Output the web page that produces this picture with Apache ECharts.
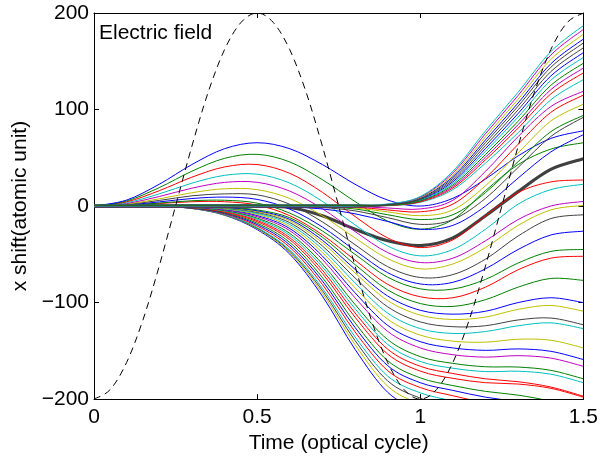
<!DOCTYPE html>
<html>
<head>
<meta charset="utf-8">
<script src="https://cdn.jsdelivr.net/npm/echarts@6/dist/echarts.min.js"></script>
<style>
html,body{margin:0;padding:0;background:#fff;}
#chart{width:601px;height:459px;}
</style>
</head>
<body>
<div id="chart"></div>
<script>
// time grid (optical cycles)
const T = [0,0.1,0.2,0.3,0.4,0.5,0.6,0.7,0.8,0.9,1.0,1.1,1.2,1.3,1.4,1.5];
const TF = [0,0.05,0.1,0.15,0.2,0.25,0.3,0.35,0.4,0.45,0.5,0.55,0.6,0.65,0.7,0.75,0.8,0.85,0.9,0.95,1.0,1.05,1.1,1.15,1.2,1.25,1.3,1.35,1.4,1.45,1.5];
// electric field (dashed, scaled)
const field = [-200,-190,-162,-118,-62,0,62,118,162,190,200,190,162,118,62,0,-62,-118,-162,-190,-200,-190,-162,-118,-62,0,62,118,162,190,200];
// thick curve
const meanShift = [0,0,0,0,0,0,-1.5,-10,-24,-36,-41,-33,-10,15,38,49];

// top bundle (flat, then rising)
const b0 = [0.9,0.9,0.9,0.9,0.9,0.9,0.9,0.9,0.9,2.1,9.9,36.1,78,118,160,187];
const b1 = [-0.9,-0.9,-0.9,-0.9,-0.9,-0.9,-0.9,-0.9,-0.9,1.9,9.3,34.3,75,114.6,156.4,183];
const b2 = [0.5,0.5,0.5,0.5,0.5,0.5,0.5,0.5,0.5,1.7,8.7,32.3,71.7,110.7,151.9,178];
const b3 = [-0.5,-0.5,-0.5,-0.5,-0.5,-0.5,-0.5,-0.5,-0.5,1.5,8.1,30.4,68.5,106.8,147.3,173];
const b4 = [1.2,1.2,1.2,1.2,1.2,1.2,1.2,1.2,1.2,1.4,7.5,28.7,65.7,103.5,143.7,169];
const b5 = [-1.2,-1.2,-1.2,-1.2,-1.2,-1.2,-1.2,-1.2,-1.2,1.2,7,26.9,62.6,99.7,139.2,164];
const b6 = [0.2,0.2,0.2,0.2,0.2,0.2,0.2,0.2,0.2,1,6.4,25.2,59.6,95.9,134.7,159];
const b7 = [-0.2,-0.2,-0.2,-0.2,-0.2,-0.2,-0.2,-0.2,-0.2,0.9,5.9,23.5,56.7,92.2,130.3,154];
const b8 = [0.7,0.7,0.7,0.7,0.7,0.7,0.7,0.7,0.7,0.8,5.4,21.8,53.4,87.9,125,148];
const b9 = [-0.7,-0.7,-0.7,-0.7,-0.7,-0.7,-0.7,-0.7,-0.7,0.6,4.9,20.2,50.6,84.3,120.5,143];
const b10 = [0,0,0,0,0,0,0,0,0,0.5,4.4,18.7,47.9,80.7,116.1,138];
const b11 = [1,1,1,1,1,1,1,1,1,0.4,3.9,17,44.5,76,110,131];

// late droppers
const d0 = [0,0,0,0,0,0,0,0,-0.5,-2,-3,6,36,72,103,119];
const d1 = [0,0,0,0,0,0,0,0,-1,-4,-6,2,29,64,97,115];
const d2 = [0,0,0,0,0,0,0,-0.5,-2,-6,-10,-4,21,55,88,105.6];
const d3 = [0,0,0,0,0,0,0,-1,-3,-9,-14,-9,14,46,77,94];
const d4 = [0,0,0,0,0,0,-0.5,-1.5,-5,-12,-19,-14,8,40,72,92];
const d5 = [0,0,0,0,0,0,-1,-3,-8,-16,-24,-20,0,29,56,74];

// bump curves
const a0 = [0,6.2,22.6,43,59.4,65.6,59.4,43,22.6,6.2,0,8,28,52,70,78];
const a1 = [0,5.3,19.1,36.1,49.4,53.6,45.7,27.3,4.7,-15.6,-24,-14,16,43,59,65.6];
const a2 = [0,4.4,15.9,29.9,40.5,43,33.9,14.2,-10.8,-33,-43,-35,-10,14,25,27];
const a3 = [0,3.5,12.6,23.7,31.8,33,23.8,4.9,-19.5,-41.4,-51.6,-45,-24,2,17,22.6];
const a4 = [0,2.7,9.9,18.5,24.5,24.6,15.5,-2.8,-26.4,-48.2,-58.5,-54,-36,-14,0,4.8];
const a5 = [0,2.1,7.5,13.8,17.9,17,7.8,-10,-33,-54.5,-65,-60,-43,-20,-4,0.7];
const a6 = [0,1.6,5.8,10.6,12.6,11.6,1.9,-16.4,-40,-62.8,-74,-71,-55,-31,-13,-9];
const a7 = [0,1.2,4.3,7.8,9.3,6.9,-3.2,-21.7,-46,-69,-80.7,-79,-65,-45,-30,-26];
const a8 = [0,0.9,3.1,5.5,6,3,-7.3,-25.8,-50,-73.7,-85.8,-86,-76,-59,-47,-45];
const a9 = [0,0.7,2.6,4.5,4.5,1,-10,-29.8,-56,-81.1,-94,-95,-84,-66,-54,-52];

// downward curves
const c0 = [0,0,0,-0.3,-1.2,-4,-12.1,-32.3,-60.6,-86.9,-101,-104,-97,-84,-75,-77];
const c1 = [0,0,0,-0.4,-1.5,-4.9,-13.8,-35.4,-65.5,-93.2,-108,-112,-109,-100,-95,-100];
const c2 = [0,0,0,-0.5,-1.9,-5.7,-15.3,-38,-69.3,-97.9,-113,-117.5,-115,-107,-103,-109];
const c3 = [0,0,0,-0.6,-2.2,-6.6,-17.2,-41.3,-74.4,-104.4,-120,-125,-124,-118,-116,-123];
const c4 = [0,0,-0.1,-0.7,-2.6,-7.6,-19.1,-44.7,-79.6,-110.9,-127,-132,-130,-124,-121,-127];
const c5 = [0,0,-0.1,-0.8,-3.1,-8.7,-21.2,-48.1,-84.7,-117.2,-133.7,-140,-141,-138,-139,-147];
const c6 = [0,0,-0.1,-0.9,-3.5,-9.8,-23.3,-51.7,-89.9,-123.6,-140.5,-147,-149.5,-148,-150.5,-159];
const c7 = [0,0,-0.1,-1.1,-4,-11,-25.5,-55.3,-95.1,-129.8,-147,-154,-156.5,-155,-157.5,-166];
const c8 = [0,0,-0.2,-1.2,-4.6,-12.5,-28.3,-59.9,-101.9,-138.3,-156,-163,-166.5,-166.8,-170.2,-179];
const c9 = [0,0,-0.2,-1.4,-5.1,-13.7,-30.4,-63.1,-106.3,-143.3,-161,-168,-171.5,-171.1,-174.2,-183];
const c10 = [0,0,-0.2,-1.5,-5.6,-14.9,-32.7,-66.4,-110.7,-148.3,-166,-173.5,-179,-182,-187.5,-197];
const c11 = [0,0,-0.3,-1.6,-6.2,-16.2,-34.9,-69.8,-115.1,-153.3,-171,-178.5,-183,-184.4,-188.8,-198];
const c12 = [0,0,-0.3,-1.8,-6.8,-17.8,-37.7,-74,-121,-160.2,-178,-186,-192,-195.9,-202.3,-212];
const c13 = [0,0,-0.3,-2,-7.4,-19.2,-40.2,-77.6,-125.7,-165.3,-183,-191,-198,-202.9,-210,-220];
const c14 = [0,0,-0.4,-2.1,-8,-20.7,-42.7,-81.2,-130.3,-170.5,-188,-196.5,-204,-209.8,-217.8,-228];
const c15 = [0,0,-0.4,-2.3,-8.7,-22.3,-45.5,-85.1,-135.5,-176.1,-193.5,-202,-210.5,-217.4,-225.6,-236];
const c16 = [0,0,-0.4,-2.4,-9,-22.9,-46.8,-87.6,-139.3,-181.1,-199,-208,-216.7,-224,-232.4,-244];
const c17 = [0,0,-0.4,-2.5,-9.2,-23.6,-48.2,-90.2,-143.5,-186.6,-205,-214,-223.3,-231,-240.2,-252];
const c18 = [0,0,-0.4,-2.5,-9.5,-24.4,-49.8,-93.3,-148.4,-192.9,-212,-221,-231.6,-239,-249.2,-260];

const xTicks = [0, 0.5, 1, 1.5];
const yTicks = [-200, -100, 0, 100, 200];

const COL = {b:'#0000FF', g:'#008000', r:'#FF0000', c:'#00BFBF', m:'#BF00BF', y:'#BFBF00', k:'#404040'};

// drawing order: downward, bumps, late droppers, top bundle
const thin = [
  [c18,'b'],[c17,'y'],[c16,'k'],[c15,'c'],[c14,'r'],[c13,'b'],[c12,'g'],[c11,'r'],[c10,'r'],
  [c9,'c'],[c8,'g'],[c7,'m'],[c6,'b'],[c5,'y'],[c4,'c'],[c3,'k'],[c2,'y'],[c1,'b'],[c0,'g'],
  [a9,'r'],[a8,'g'],[a7,'b'],[a6,'k'],[a5,'y'],[a4,'m'],[a3,'c'],[a2,'r'],[a1,'g'],[a0,'b'],
  [d5,'b'],[d4,'k'],[d3,'g'],[d2,'y'],[d1,'r'],[d0,'m'],
  [b11,'c'],[b9,'m'],[b6,'b'],[b3,'b'],[b2,'y'],[b1,'m'],[b0,'c'],[b10,'r'],
  [b7,'c'],[b8,'g'],[b4,'k'],[b5,'k']
];

const FONT = 'Liberation Sans, Arial, Helvetica, sans-serif';

// Catmull-Rom spline through points already mapped by the axes
function splinePath(pts) {
  let d = 'M' + pts[0][0] + ',' + pts[0][1];
  for (let i = 0; i < pts.length - 1; i++) {
    const p0 = pts[i - 1] || pts[i], p1 = pts[i], p2 = pts[i + 1], p3 = pts[i + 2] || pts[i + 1];
    const c1x = p1[0] + (p2[0] - p0[0]) / 6, c1y = p1[1] + (p2[1] - p0[1]) / 6;
    const c2x = p2[0] - (p3[0] - p1[0]) / 6, c2y = p2[1] - (p3[1] - p1[1]) / 6;
    d += ' C' + c1x + ',' + c1y + ' ' + c2x + ',' + c2y + ' ' + p2[0] + ',' + p2[1];
  }
  return d;
}

function curveSeries(xs, ys, color, width, z, dash) {
  return {
    type:'custom', coordinateSystem:'cartesian2d', xAxisIndex:0, yAxisIndex:0,
    data:[[xs[0], ys[0]]], silent:true, z:z, animation:false,
    renderItem:(params, api) => {
      const pts = xs.map((x, i) => api.coord([x, ys[i]]));
      const cs = params.coordSys;
      return {
        type:'path',
        shape:{pathData: splinePath(pts)},
        style:{stroke:color, fill:'none', lineWidth:width, lineDash: dash || null},
        clipPath:{type:'rect', shape:{x:cs.x, y:cs.y, width:cs.width, height:cs.height}},
        silent:true
      };
    }
  };
}

const series = [];
series.push(curveSeries(T, meanShift, '#404040', 3.2, 2));
thin.forEach(([arr, c]) => series.push(curveSeries(T, arr, COL[c], 1, 3)));
series.push(curveSeries(TF, field, '#000', 1, 4, [7, 5]));

const minus = v => (v < 0 ? '\u2212' + Math.abs(v) : String(v));

const chart = echarts.init(document.getElementById('chart'), null, {renderer:'canvas'});
chart.setOption({
  animation:false,
  backgroundColor:'#fff',
  grid:{left:94, right:16, top:13, bottom:57, containLabel:false},
  xAxis:[{
    type:'value', min:xTicks[0], max:xTicks[xTicks.length-1], interval:0.5, position:'bottom',
    axisLine:{show:true, onZero:false, lineStyle:{color:'#000', width:1}},
    axisTick:{show:true, inside:true, length:5, lineStyle:{color:'#000'}},
    splitLine:{show:false},
    axisLabel:{color:'#000', fontSize:21, fontFamily:FONT, margin:8},
    name:'Time (optical cycle)', nameLocation:'middle', nameGap:29,
    nameTextStyle:{color:'#000', fontSize:21, fontFamily:FONT}
  },{
    type:'value', min:xTicks[0], max:xTicks[xTicks.length-1], interval:0.5, position:'top',
    axisLine:{show:true, onZero:false, lineStyle:{color:'#000', width:1}},
    axisTick:{show:true, inside:true, length:5, lineStyle:{color:'#000'}},
    splitLine:{show:false}, axisLabel:{show:false}
  }],
  yAxis:[{
    type:'value', min:yTicks[0], max:yTicks[yTicks.length-1], interval:100, position:'left',
    axisLine:{show:true, onZero:false, lineStyle:{color:'#000', width:1}},
    axisTick:{show:true, inside:true, length:5, lineStyle:{color:'#000'}},
    splitLine:{show:false},
    axisLabel:{color:'#000', fontSize:21, fontFamily:FONT, margin:5, formatter:minus},
    name:'x shift(atomic unit)', nameLocation:'middle', nameGap:60,
    nameTextStyle:{color:'#000', fontSize:21, fontFamily:FONT}
  },{
    type:'value', min:yTicks[0], max:yTicks[yTicks.length-1], interval:100, position:'right',
    axisLine:{show:true, onZero:false, lineStyle:{color:'#000', width:1}},
    axisTick:{show:true, inside:true, length:5, lineStyle:{color:'#000'}},
    splitLine:{show:false}, axisLabel:{show:false}
  }],
  graphic:[{
    type:'text', left:99, top:23, z:10,
    style:{text:'Electric field', fill:'#000', font:'21px ' + FONT}
  }],
  series: series
});
</script>
</body>
</html>
